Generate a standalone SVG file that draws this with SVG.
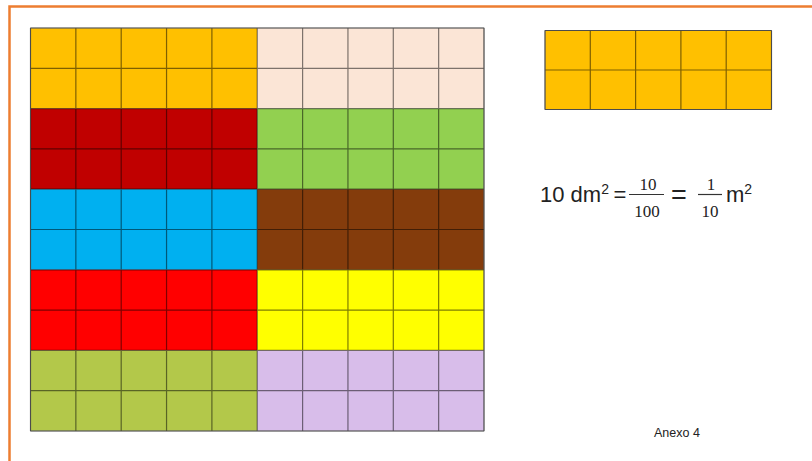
<svg xmlns="http://www.w3.org/2000/svg" width="812" height="461" viewBox="0 0 812 461">
<style>
.grid{fill:none;stroke:#000;stroke-opacity:0.5;stroke-width:1.2}
.edge{fill:none;stroke:#999;stroke-width:1}
.sans{font-family:"Liberation Sans",Arial,sans-serif;fill:#222}
.serif{font-family:"Liberation Serif","Times New Roman",serif;fill:#222}
.bar{stroke:#333;stroke-width:1.2}
</style>
<rect x="0" y="0" width="812" height="461" fill="#fff"/>
<path d="M9.5 461 V6.5 H812" fill="none" stroke="#ED7D31" stroke-width="2.5"/>
<g id="big-grid">
  <g id="b1l"><rect x="30.5" y="28" width="226.75" height="80.6" fill="#FFC000"/></g>
  <g id="b1r"><rect x="257.25" y="28" width="226.75" height="80.6" fill="#FBE5D6"/></g>
  <g id="b2l"><rect x="30.5" y="108.6" width="226.75" height="80.6" fill="#C00000"/></g>
  <g id="b2r"><rect x="257.25" y="108.6" width="226.75" height="80.6" fill="#92D050"/></g>
  <g id="b3l"><rect x="30.5" y="189.2" width="226.75" height="80.6" fill="#00B0F0"/></g>
  <g id="b3r"><rect x="257.25" y="189.2" width="226.75" height="80.6" fill="#843C0C"/></g>
  <g id="b4l"><rect x="30.5" y="269.8" width="226.75" height="80.6" fill="#FF0000"/></g>
  <g id="b4r"><rect x="257.25" y="269.8" width="226.75" height="80.6" fill="#FFFF00"/></g>
  <g id="b5l"><rect x="30.5" y="350.4" width="226.75" height="80.6" fill="#B3C84A"/></g>
  <g id="b5r"><rect x="257.25" y="350.4" width="226.75" height="80.6" fill="#D8BDEA"/></g>
  <rect class="edge" x="30.5" y="28" width="453.5" height="403"/>
  <path class="grid" d="M30.5 28V431 M75.85 28V431 M121.2 28V431 M166.55 28V431 M211.9 28V431 M257.25 28V431 M302.6 28V431 M347.95 28V431 M393.3 28V431 M438.65 28V431 M484 28V431
  M30.5 28H484 M30.5 68.3H484 M30.5 108.6H484 M30.5 148.9H484 M30.5 189.2H484 M30.5 229.5H484 M30.5 269.8H484 M30.5 310.1H484 M30.5 350.4H484 M30.5 390.7H484 M30.5 431H484"/>
</g>
<g id="small-grid">
  <rect x="545" y="30.5" width="226.5" height="79" fill="#FFC000"/>
  <rect class="edge" x="545" y="30.5" width="226.5" height="79"/>
  <path class="grid" d="M545 30.5V109.5 M590.3 30.5V109.5 M635.6 30.5V109.5 M680.9 30.5V109.5 M726.2 30.5V109.5 M771.5 30.5V109.5 M545 30.5H771.5 M545 70H771.5 M545 109.5H771.5"/>
</g>
<g id="formula">
  <text class="sans" x="540" y="202" font-size="22">10 dm<tspan font-size="14" dy="-8">2</tspan></text>
  <text class="sans" x="613.5" y="202" font-size="22">=</text>
  <text class="serif" x="648" y="190" font-size="17" text-anchor="middle">10</text>
  <line class="bar" x1="629" y1="194.5" x2="664" y2="194.5"/>
  <text class="serif" x="647" y="216.5" font-size="17" text-anchor="middle">100</text>
  <text class="sans" x="671" y="204" font-size="27">=</text>
  <text class="serif" x="711" y="190" font-size="17" text-anchor="middle">1</text>
  <line class="bar" x1="698" y1="194.5" x2="722" y2="194.5"/>
  <text class="serif" x="710" y="216.5" font-size="17" text-anchor="middle">10</text>
  <text class="sans" x="726" y="202" font-size="22">m<tspan font-size="14" dy="-8">2</tspan></text>
</g>
<text class="sans" x="654" y="437" font-size="12.5">Anexo 4</text>
</svg>
